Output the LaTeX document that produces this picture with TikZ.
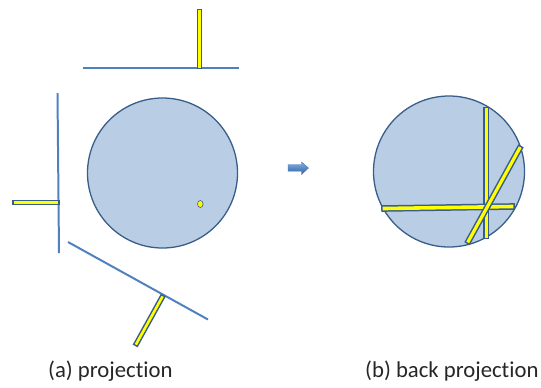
\documentclass[tikz,border=0pt]{standalone}
\usepackage{fontspec}
\setmainfont[Ligatures=NoCommon]{Carlito}
\definecolor{circfill}{RGB}{185,205,228}
\definecolor{circline}{RGB}{56,93,138}
\definecolor{planeline}{RGB}{79,129,189}
\definecolor{baryel}{RGB}{255,255,0}
\definecolor{arrowlight}{RGB}{130,175,225}
\definecolor{arrowdark}{RGB}{45,95,165}
\tikzset{
  phantom/.style={circle, draw=circline, line width=1.3, fill=circfill},
  plane/.style={draw=planeline, line width=2},
  bar/.style={draw=circline, line width=1.5, double=baryel, double distance=#1, line cap=rect},
  bar/.default=3,
  caption/.style={font=\fontsize{22.8}{27}\selectfont, text=black!85, inner sep=0, anchor=base west}
}
\begin{document}
\begin{tikzpicture}[x=1bp,y=-1bp]
\useasboundingbox (0,0) rectangle (541,387);
% (a) projection
\coordinate (c1) at (162.5,173);
\draw[phantom] (c1) circle (75);
\draw[plane] (83,67.5) coordinate (t1) -- (239,67.5) coordinate (t2);
\draw[bar=2.6] (199.7,11.5) coordinate (tb1) -- (199.7,66.5) coordinate (tb2);
\draw[plane] (57.5,93) coordinate (l1) -- (59,253) coordinate (l2);
\draw[bar=2.6] (15,202.5) coordinate (lb1) -- (57,202.5) coordinate (lb2);
\draw[plane] (68,242) coordinate (d1) -- (208,319.5) coordinate (d2);
\draw[bar=2.6] (162,297.5) coordinate (db1) -- (136.5,343.5) coordinate (db2);
\draw[draw=circline, line width=0.6, fill=baryel] (200.3,204) ellipse (2.8 and 3.5);
\node[caption] (capa) at (48,377) {(a) projection};
% arrow
\shade[top color=arrowlight, bottom color=arrowdark, draw=arrowdark!90, line width=0.4]
  (288,164.5) -- (301.5,164.5) -- (301.5,162) -- (308.5,168) -- (301.5,174.5) -- (301.5,171.2) -- (288,171.2) -- cycle;
% (b) back projection
\coordinate (c2) at (449,171.5);
\draw[phantom] (c2) circle (75.5);
\draw[bar=3] (486,109.5) coordinate (vb1) -- (486,236.5) coordinate (vb2);
\draw[bar=3.6] (384.5,208.5) coordinate (hb1) -- (511.5,206.5) coordinate (hb2);
\draw[bar=3.2] (519.5,148.5) coordinate (gb1) -- (468.5,241) coordinate (gb2);
\node[caption] (capb) at (365,377) {(b) back projection};
\end{tikzpicture}
\end{document}
